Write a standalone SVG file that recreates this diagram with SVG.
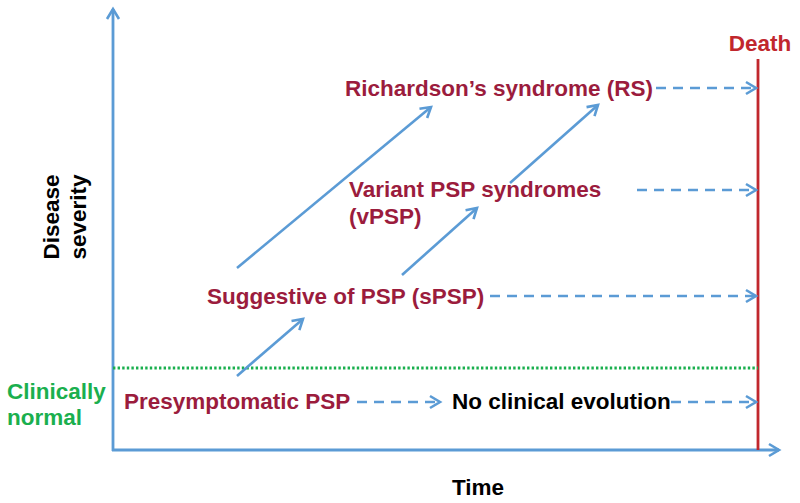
<svg xmlns="http://www.w3.org/2000/svg" width="800" height="503" viewBox="0 0 800 503">
<style>
text{font-family:"Liberation Sans",Arial,sans-serif;font-weight:bold;font-size:22.5px}
.stage{fill:#9B1C3D}
.blk{fill:#000}
.grn{fill:#1AAF4E}
.solid{stroke:#5B9BD5;stroke-width:2.6;fill:none;marker-end:url(#ah)}
.dash{stroke:#5B9BD5;stroke-width:2.6;fill:none;stroke-dasharray:10 7;marker-end:url(#ah)}
.axis{stroke:#5B9BD5;stroke-width:2.8;fill:none;marker-end:url(#ah)}
</style>
<defs>
<marker id="ah" markerUnits="userSpaceOnUse" markerWidth="16" markerHeight="16" refX="13" refY="8" orient="auto">
<path d="M3,2 L13,8 L3,14" fill="none" stroke="#5B9BD5" stroke-width="2.6"/>
</marker>
</defs>
<rect width="800" height="503" fill="#fff"/>
<g id="axes">
<line class="axis" x1="113" y1="451" x2="113" y2="9"/>
<line class="axis" x1="112" y1="450" x2="779" y2="450"/>
<text class="blk" x="478" y="495" text-anchor="middle" font-size="23">Time</text>
<text class="blk" transform="translate(59,217) rotate(-90)" text-anchor="middle" font-size="23">Disease</text>
<text class="blk" transform="translate(86,217) rotate(-90)" text-anchor="middle" font-size="23">severity</text>
</g>
<g id="death">
<line x1="758" y1="59" x2="758" y2="450" stroke="#C1272D" stroke-width="2.8"/>
<text x="760" y="51" text-anchor="middle" fill="#C1272D" font-size="25.5">Death</text>
</g>
<g id="threshold">
<line x1="113" y1="368" x2="758" y2="368" stroke="#1AAF4E" stroke-width="3" stroke-dasharray="2.4 2.2"/>
<text class="grn" x="7" y="399">Clinically</text>
<text class="grn" x="7" y="425">normal</text>
</g>
<g id="rs"><text class="stage" x="345" y="96">Richardson’s syndrome (RS)</text></g>
<g id="vpsp"><text class="stage" x="349" y="197">Variant PSP syndromes</text><text class="stage" x="349" y="224">(vPSP)</text></g>
<g id="spsp"><text class="stage" x="207" y="304">Suggestive of PSP (sPSP)</text></g>
<g id="presym"><text class="stage" x="124" y="409">Presymptomatic PSP</text></g>
<g id="noevo"><text class="blk" x="452" y="409">No clinical evolution</text></g>
<g id="connectors">
<line class="solid" x1="237" y1="268" x2="431" y2="107"/>
<line class="solid" x1="402" y1="275" x2="477" y2="208"/>
<line class="solid" x1="510" y1="183" x2="598" y2="105"/>
<line class="solid" x1="237" y1="376" x2="303" y2="319"/>
<line class="dash" x1="656" y1="88" x2="756" y2="88"/>
<line class="dash" x1="637" y1="190" x2="756" y2="190"/>
<line class="dash" x1="490" y1="296" x2="756" y2="296"/>
<line class="dash" x1="357" y1="402" x2="440" y2="402"/>
<line class="dash" x1="671" y1="402" x2="756" y2="402"/>
</g>
</svg>
